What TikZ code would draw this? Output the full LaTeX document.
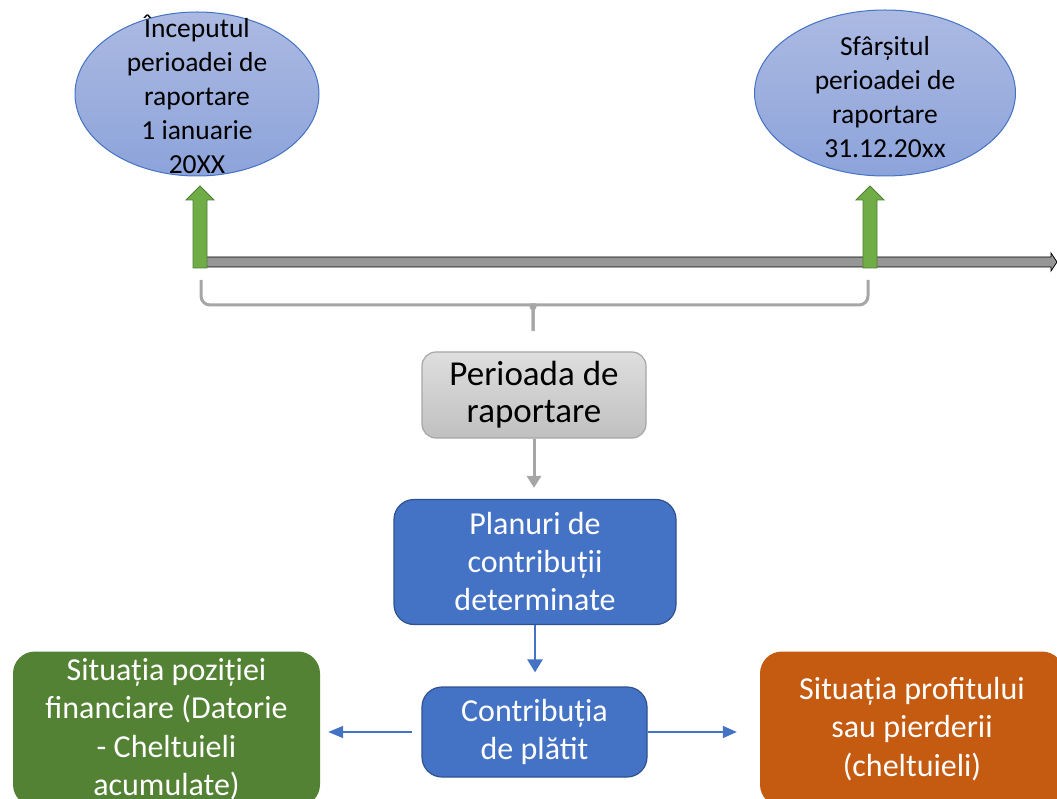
\documentclass[tikz,border=0pt]{standalone}
\usepackage{fontspec}
\setmainfont{Carlito}
\usetikzlibrary{arrows.meta,positioning,shapes.geometric}
\definecolor{ellTop}{RGB}{172,186,226}
\definecolor{ellBot}{RGB}{140,163,218}
\definecolor{ellLine}{RGB}{68,114,196}
\definecolor{boxBlue}{RGB}{68,114,196}
\definecolor{boxBlueLine}{RGB}{47,82,143}
\definecolor{markGreen}{RGB}{112,173,71}
\definecolor{markGreenLine}{RGB}{80,126,50}
\definecolor{boxGreen}{RGB}{84,130,53}
\definecolor{boxOrange}{RGB}{197,90,17}
\definecolor{braceGray}{RGB}{166,166,166}
\definecolor{axisGray}{RGB}{150,150,150}
\definecolor{periodTop}{RGB}{222,222,222}
\definecolor{periodBot}{RGB}{192,192,192}

\tikzset{
  dateell/.style={ellipse, draw=ellLine, line width=1pt, top color=ellTop, bottom color=ellBot, inner sep=0pt},
  datetext/.style={align=center, inner sep=0pt, font=\fontsize{27.5}{34}\selectfont, text=black},
  periodbox/.style={rectangle, rounded corners=14pt, draw=braceGray, line width=1.2pt, top color=periodTop, bottom color=periodBot, minimum width=224pt, minimum height=86pt, inner sep=2pt, align=center, font=\fontsize{35}{37}\selectfont},
  planbox/.style={rectangle, rounded corners=20pt, fill=boxBlue, draw=boxBlueLine, line width=1.2pt, text=white, inner sep=2pt, align=center, font=\fontsize{32}{38}\selectfont},
  resultbox/.style={rectangle, rounded corners=22pt, text=white, inner sep=2pt, align=center, minimum width=307pt, minimum height=155pt, font=\fontsize{32}{38.5}\selectfont},
}

\begin{document}
\begin{tikzpicture}[x=1pt, y=-1pt]
    \useasboundingbox (0,0) rectangle (1057,799);
    \clip (0,0) rectangle (1057,799);
    % time line
    \draw[black, line width=0.8pt, fill=axisGray] (204,257) -- (1051,257) -- (1051,253) -- (1057,262) -- (1051,271) -- (1051,267) -- (204,267) -- cycle;
    % green markers at start and end of the period
    \foreach \x/\name in {200/startmark, 870/endmark} {
      \draw[markGreenLine, fill=markGreen, line width=0.8pt] (\x-7,268) -- (\x-7,200) -- (\x-14,200) -- (\x,186) -- (\x+14,200) -- (\x+7,200) -- (\x+7,268) -- cycle;
      \coordinate (\name) at (\x,186);
    }
    % dates
    \node[dateell, minimum width=244pt, minimum height=164pt] (startell) at (197,94) {};
    \node[datetext] (starttext) at (197,94) {Începutul\\perioadei de\\raportare\\1 ianuarie\\20XX};
    \node[dateell, minimum width=261pt, minimum height=166pt] (endell) at (885,93) {};
    \node[datetext] (endtext) at (885,97) {Sfârșitul\\perioadei de\\raportare\\31.12.20xx};
    % brace under the period
    \coordinate (braceL) at (201,280);
    \coordinate (braceR) at (868,280);
    \coordinate (braceTip) at (533,331);
    \draw[braceGray, line width=3pt, rounded corners=9pt] (braceL) |- (523,305) to[out=0, in=90] (533,317) -- (braceTip);
    \draw[braceGray, line width=3pt, rounded corners=9pt] (braceR) |- (543,305) to[out=180, in=90] (533,317) -- (braceTip);
    % boxes
    \node[periodbox] (period) at (534,395) {Perioada de\\raportare};
    \node[planbox, minimum width=282pt, minimum height=125pt] (plans) at (535,562) {Planuri de\\contribuții\\determinate};
    \node[planbox, minimum width=225pt, minimum height=90pt] (payable) at (534.5,732) {Contribuția\\de plătit};
    \node[resultbox, fill=boxGreen] (position) at (166.5,729) {Situația poziției\\financiare (Datorie\\- Cheltuieli\\acumulate)};
    \node[resultbox, fill=boxOrange, minimum width=304pt] (profit) at (912,729) {Situația profitului\\sau pierderii\\(cheltuieli)};
    % connectors
    \draw[-{Triangle[length=12pt,width=14pt]}, braceGray, line width=3pt, shorten >=11pt] (period.south) -- (period.south |- plans.north);
    \draw[-{Triangle[length=13pt,width=15pt]}, boxBlue, line width=2.5pt, shorten >=14pt] (plans.south) -- (plans.south |- payable.north);
    \draw[-{Triangle[length=15pt,width=12pt]}, boxBlue, line width=1.5pt, shorten <=9pt, shorten >=8pt] (payable.west) -- (payable.west -| position.east);
    \draw[-{Triangle[length=14pt,width=12pt]}, boxBlue, line width=1.5pt, shorten >=23pt] (payable.east) -- (payable.east -| profit.west);
  \end{tikzpicture}
\end{document}
